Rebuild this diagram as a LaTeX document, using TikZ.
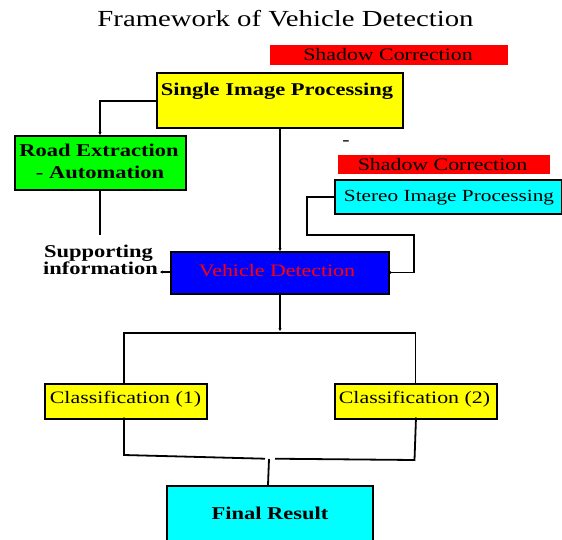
\documentclass[tikz,border=0pt]{standalone}
\usepackage{fontspec}
\setmainfont[FakeStretch=1.25]{Liberation Serif}
\usetikzlibrary{arrows.meta}
\definecolor{pcyan}{RGB}{0,255,255}
\definecolor{pyellow}{RGB}{255,255,0}
\definecolor{pgreen}{RGB}{0,255,0}
\definecolor{pblue}{RGB}{0,0,255}
\definecolor{pred}{RGB}{255,0,0}
\tikzset{
  box/.style={draw=black, line width=2pt, anchor=north west, inner sep=0pt},
  bar/.style={fill=pred, draw=none, anchor=north west, inner sep=0pt},
  txt/.style={anchor=base, inner sep=0pt, font=\fontsize{17.5}{20}\selectfont},
  btxt/.style={txt, font=\fontsize{18}{20}\selectfont\bfseries},
  conn/.style={line width=1.8pt},
  arr/.style={conn, -{Stealth[length=3pt,width=3pt]}}
}
\begin{document}
\begin{tikzpicture}[x=1pt,y=-1pt]
\useasboundingbox (0,0) rectangle (562,539);
\clip (0,0) rectangle (562,539);
% title
\node[txt, font=\fontsize{23}{26}\selectfont] (title) at (285.5,26) {Framework of Vehicle Detection};
% shadow bars
\node[bar, minimum width=238pt, minimum height=20pt] (sc1) at (270,45) {};
\node[txt] (sc1t) at (388,60.7) {Shadow Correction};
\node[bar, minimum width=212pt, minimum height=19pt] (sc2) at (338,155) {};
\node[txt] (sc2t) at (442.5,170.7) {Shadow Correction};
\node[txt] (dash) at (346,145) {-};
% boxes
\node[box, fill=pyellow, minimum width=246pt, minimum height=55pt] (sip) at (156,72) {};
\node[btxt] (sipt) at (277,95) {Single Image Processing};
\node[box, fill=pgreen, minimum width=171pt, minimum height=54pt] (road) at (13.5,135) {};
\node[btxt] (roadt1) at (99,156.7) {Road Extraction};
\node[btxt] (roadt2) at (100,178) {- Automation};
\node[box, fill=pcyan, minimum width=227pt, minimum height=34pt] (stereo) at (333.5,179) {};
\node[txt, font=\fontsize{17}{20}\selectfont] (stereot) at (449,201.7) {Stereo Image Processing};
\node[box, fill=pblue, minimum width=218pt, minimum height=42pt] (vd) at (170,251) {};
\node[txt, text=pred] (vdt) at (277,276.7) {Vehicle Detection};
\node[btxt] (sup1) at (98.5,257.5) {Supporting};
\node[btxt] (sup2) at (100.5,274) {information};
\node[box, fill=pyellow, minimum width=162pt, minimum height=34.5pt] (c1) at (43.5,383) {};
\node[txt] (c1t) at (125.5,403.7) {Classification (1)};
\node[box, fill=pyellow, minimum width=162.5pt, minimum height=34.5pt] (c2) at (333.5,383) {};
\node[txt] (c2t) at (414.5,403.7) {Classification (2)};
\node[box, fill=pcyan, minimum width=206pt, minimum height=70pt] (fin) at (166,485) {};
\node[btxt] (fint) at (270,519) {Final Result};
% coordinates
\coordinate (sipL) at (156,100.7);
\coordinate (k1) at (100,100.7);
\coordinate (roadB) at (100,189);
\coordinate (roadE) at (100,235);
\coordinate (sipB) at (280,127);
\coordinate (vdT) at (280,251);
\coordinate (stL) at (333.5,197);
\coordinate (s1) at (307,197);
\coordinate (s2) at (307,235);
\coordinate (s3) at (414,235);
\coordinate (s4) at (414,272.5);
\coordinate (vdR) at (388,272.5);
\coordinate (vdL) at (170,272);
\coordinate (supE) at (160,272);
\coordinate (vdB) at (280,293);
\coordinate (split) at (280,331);
\coordinate (h1) at (124,333);
\coordinate (h2) at (415.5,333);
\coordinate (c1T) at (124,383);
\coordinate (c2T) at (415.5,383);
\coordinate (c1B) at (124,417.5);
\coordinate (c1D) at (124,455);
\coordinate (m1) at (265,458.7);
\coordinate (c2B) at (416,417.5);
\coordinate (c2D) at (414.5,460);
\coordinate (m2) at (275,458.7);
\coordinate (mJ) at (269,459);
\coordinate (finT) at (268,485);
% connectors
\draw[arr] (sipL) -- (k1) -- (road.north -| k1);
\draw[conn] (roadB) -- (roadE);
\draw[arr] (sipB) -- (vdT);
\draw[arr] (stL) -- (s1) -- (s2) -- (s3) -- (s4) -- (vdR);
\draw[arr] (vdL) -- (supE);
\draw[arr] (vdB) -- (split);
\draw[conn] (c1T) -- (h1) -- (h2) -- (c2T);
\draw[conn] (c1B) -- (c1D) -- (m1);
\draw[conn] (c2B) -- (c2D) -- (m2);
\draw[conn] (mJ) -- (finT);
\end{tikzpicture}
\end{document}
